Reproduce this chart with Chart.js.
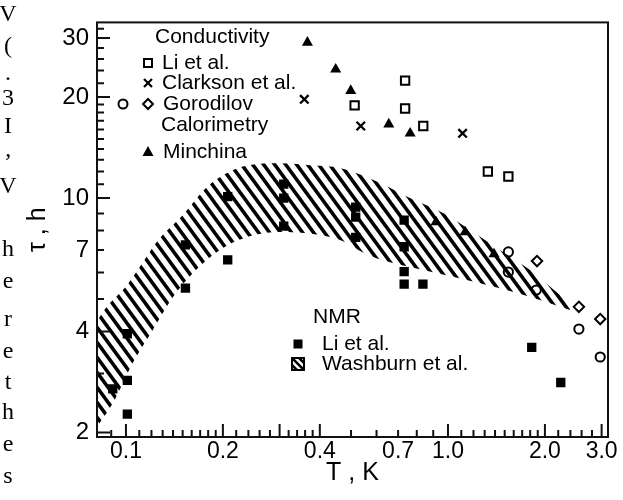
<!DOCTYPE html>
<html>
<head>
<meta charset="utf-8">
<script src="https://cdn.jsdelivr.net/npm/chart.js@4.4.0/dist/chart.umd.min.js"></script>
<style>
  html, body { margin: 0; padding: 0; background: #fff; }
  #wrap { position: relative; width: 623px; height: 500px; }
</style>
</head>
<body>
<div id="wrap"><canvas id="tauChart"></canvas></div>
<script>
// Conductivity: Li et al. (open squares)
const liCondT   = [0.513, 0.736, 0.736, 0.838, 1.33, 1.54];
const liCondTau = [18.9, 22.4, 18.5, 16.4, 12.0, 11.6];

// Conductivity: Clarkson et al. (crosses)
const clarksonT   = [0.358, 0.536, 1.11];
const clarksonTau = [19.7, 16.4, 15.6];

// Conductivity: Gorodilov (circles and diamonds)
const gorCircleT    = [1.54, 1.54, 1.88, 2.55, 2.97];
const gorCircleTau  = [6.91, 6.02, 5.32, 4.07, 3.36];
const gorDiamondT   = [1.89, 2.55, 2.97];
const gorDiamondTau = [6.49, 4.74, 4.36];

// Calorimetry: Minchina (filled triangles)
const minchinaT   = [0.366, 0.448, 0.499, 0.655, 0.763, 0.918, 1.13, 1.39];
const minchinaTau = [29.1, 24.2, 20.9, 16.6, 15.6, 8.48, 7.92, 6.81];

// NMR: Li et al. (filled squares)
const nmrLiT   = [0.091, 0.101, 0.101, 0.101, 0.153, 0.153, 0.207, 0.207, 0.309, 0.309, 0.309,
                  0.517, 0.517, 0.517, 0.731, 0.731, 0.731, 0.731, 0.836, 1.82, 2.24];
const nmrLiTau = [2.70, 3.94, 2.86, 2.27, 7.25, 5.39, 10.1, 6.54, 11.0, 10.0, 8.25,
                  9.40, 8.78, 7.64, 8.60, 7.16, 6.04, 5.54, 5.54, 3.59, 2.82];

// NMR: Washburn et al. band (upper and lower edges)
const bandUpperT   = [0.0813, 0.0873, 0.1007, 0.1275, 0.1472, 0.1785, 0.2001, 0.2376, 0.3008,
                      0.3808, 0.4619, 0.615, 0.762, 0.965, 1.170, 1.450, 1.798, 2.228, 2.393];
const bandUpperTau = [4.30, 4.75, 5.50, 7.60, 8.72, 10.8, 11.7, 12.5, 12.7,
                      12.5, 12.3, 11.1, 10.0, 9.02, 8.03, 7.00, 6.10, 5.14, 4.87];
const bandLowerT   = [0.0813, 0.0911, 0.1051, 0.1213, 0.140, 0.1615, 0.1958, 0.2376, 0.3008,
                      0.3808, 0.4619, 0.573, 0.762, 1.044, 1.430, 1.931, 2.393];
const bandLowerTau = [2.08, 2.45, 3.23, 4.05, 5.07, 5.98, 7.00, 7.65, 7.92,
                      7.81, 7.50, 6.72, 6.23, 5.82, 5.40, 4.97, 4.64];

// axis ticks
const xTickLabels = [0.1, 0.2, 0.4, 0.7, 1, 2, 3];
const xMajorTicks = [0.1, 0.2, 0.3, 0.4, 1, 2, 3];
const xMinorTicks = [0.09, 0.11, 0.12, 0.13, 0.14, 0.15, 0.16, 0.17, 0.18, 0.19,
                     0.22, 0.24, 0.26, 0.28, 0.32, 0.34, 0.36, 0.38,
                     0.5, 0.6, 0.7, 0.8, 0.9, 1.1, 1.2, 1.3, 1.4, 1.5, 1.6, 1.7, 1.8, 1.9,
                     2.2, 2.4, 2.6, 2.8];
const yTickLabels = [2, 4, 7, 10, 20, 30];
const yMajorTicks = [2, 4, 10, 20, 30];
const yMinorTicks = [3, 5, 6, 7, 8, 9, 11, 12, 13, 14, 15, 16, 17, 18, 19, 22, 24, 26, 28, 32];

// stray characters of the neighbouring text column
const marginChars = ['V', '(', '.', '3', 'I', '\u2019', 'V', 'h', 'e', 'r', 'e', 't', 'h', 'e', 's'];

const SANS = "'Liberation Sans', Arial, Helvetica, sans-serif";
const pts = (xs, ys) => xs.map((x, i) => ({ x: x, y: ys[i] }));

const canvas = document.getElementById('tauChart');

// diagonal hatch used for the Washburn band
function makeHatch(ctx) {
    const w = 11, h = 15;
    const tile = document.createElement('canvas');
    tile.width = w;
    tile.height = h;
    const t = tile.getContext('2d');
    t.strokeStyle = '#000';
    t.lineWidth = 3.6;
    for (let n = -1; n <= 1; n++) {
        t.beginPath();
        t.moveTo(-w, n * h - h);
        t.lineTo(2 * w, n * h + 2 * h);
        t.stroke();
    }
    return ctx.createPattern(tile, 'repeat');
}
const hatch = makeHatch(canvas.getContext('2d'));

// small marker painter for the in-plot legend
function drawMarker(ctx, kind, x, y) {
    ctx.save();
    ctx.strokeStyle = '#000';
    ctx.fillStyle = '#000';
    ctx.lineWidth = 2;
    ctx.beginPath();
    if (kind === 'square') {
        ctx.rect(x - 4, y - 4, 8, 8);
        ctx.stroke();
    } else if (kind === 'filledSquare') {
        ctx.fillRect(x - 4.5, y - 4.5, 9, 9);
    } else if (kind === 'cross') {
        ctx.lineWidth = 2.2;
        ctx.moveTo(x - 4, y - 4); ctx.lineTo(x + 4, y + 4);
        ctx.moveTo(x + 4, y - 4); ctx.lineTo(x - 4, y + 4);
        ctx.stroke();
    } else if (kind === 'circle') {
        ctx.arc(x, y, 4.5, 0, Math.PI * 2);
        ctx.stroke();
    } else if (kind === 'diamond') {
        ctx.moveTo(x, y - 5); ctx.lineTo(x + 5, y); ctx.lineTo(x, y + 5); ctx.lineTo(x - 5, y);
        ctx.closePath();
        ctx.stroke();
    } else if (kind === 'triangle') {
        ctx.moveTo(x, y - 6); ctx.lineTo(x + 5.5, y + 4); ctx.lineTo(x - 5.5, y + 4);
        ctx.closePath();
        ctx.fill();
    } else if (kind === 'hatchBox') {
        ctx.save();
        ctx.rect(x - 6, y - 6, 12, 12);
        ctx.clip();
        ctx.lineWidth = 2.6;
        for (let k = -1; k <= 1; k++) {
            ctx.beginPath();
            ctx.moveTo(x - 8 + k * 7, y - 8);
            ctx.lineTo(x + 8 + k * 7, y + 8);
            ctx.stroke();
        }
        ctx.restore();
        ctx.lineWidth = 2;
        ctx.strokeRect(x - 6, y - 6, 12, 12);
    }
    ctx.restore();
}

// frame, inward ticks, legend text and margin letters
const decorations = {
    id: 'decorations',
    afterDraw(chart) {
        const { ctx, chartArea: a, scales } = chart;
        const xs = scales.x, ys = scales.y;
        ctx.save();

        ctx.strokeStyle = '#111';
        ctx.lineWidth = 2;
        ctx.beginPath();
        xMajorTicks.forEach(v => { const p = xs.getPixelForValue(v); ctx.moveTo(p, a.bottom); ctx.lineTo(p, a.bottom - 13); });
        xMinorTicks.forEach(v => { const p = xs.getPixelForValue(v); ctx.moveTo(p, a.bottom); ctx.lineTo(p, a.bottom - 7); });
        yMajorTicks.forEach(v => { const p = ys.getPixelForValue(v); ctx.moveTo(a.left, p); ctx.lineTo(a.left + 13, p); });
        yMinorTicks.forEach(v => { const p = ys.getPixelForValue(v); ctx.moveTo(a.left, p); ctx.lineTo(a.left + 7, p); });
        ctx.stroke();
        ctx.strokeRect(a.left, a.top, a.right - a.left, a.bottom - a.top);

        ctx.fillStyle = '#000';
        ctx.textBaseline = 'middle';
        ctx.textAlign = 'left';
        ctx.font = '21px ' + SANS;
        ctx.fillText('Conductivity', 155, 37);
        drawMarker(ctx, 'square', 148, 63);
        ctx.fillText('Li et al.', 162, 63);
        drawMarker(ctx, 'cross', 148, 83);
        ctx.fillText('Clarkson et al.', 162, 83);
        drawMarker(ctx, 'circle', 123, 104);
        drawMarker(ctx, 'diamond', 148, 104);
        ctx.fillText('Gorodilov', 163, 104);
        ctx.fillText('Calorimetry', 161, 125);
        drawMarker(ctx, 'triangle', 148, 152);
        ctx.fillText('Minchina', 163, 152);

        ctx.fillText('NMR', 313, 317);
        drawMarker(ctx, 'filledSquare', 298, 344);
        ctx.fillText('Li et al.', 322, 344);
        drawMarker(ctx, 'hatchBox', 298, 364);
        ctx.fillText('Washburn et al.', 322, 364);

        // the neighbouring column is cut by the page edge
        ctx.font = '24px "Liberation Serif", "Times New Roman", serif';
        ctx.textAlign = 'center';
        const rows = [15, 47, 74, 99, 127, 163, 187, 250, 282, 320, 352, 383, 413, 445, 477];
        marginChars.forEach((c, i) => ctx.fillText(c, 8, rows[i]));
        ctx.restore();
    }
};

const markerBase = { showLine: false, order: 0 };

new Chart(canvas, {
    type: 'scatter',
    data: {
        datasets: [
            {
                type: 'line', label: 'Washburn et al.', data: pts(bandUpperT, bandUpperTau),
                borderWidth: 0, pointRadius: 0, cubicInterpolationMode: 'monotone',
                backgroundColor: hatch, fill: 1, order: 10
            },
            {
                type: 'line', label: 'Washburn lower', data: pts(bandLowerT, bandLowerTau),
                borderWidth: 0, pointRadius: 0, cubicInterpolationMode: 'monotone',
                fill: false, order: 11
            },
            {
                ...markerBase, label: 'Li et al. (NMR)', data: pts(nmrLiT, nmrLiTau),
                pointStyle: 'rect', pointRadius: 6.6, borderWidth: 0,
                backgroundColor: '#000', borderColor: '#000'
            },
            {
                ...markerBase, label: 'Li et al.', data: pts(liCondT, liCondTau),
                pointStyle: 'rect', pointRadius: 5.9, borderWidth: 2,
                backgroundColor: 'rgba(255,255,255,0)', borderColor: '#000'
            },
            {
                ...markerBase, label: 'Clarkson et al.', data: pts(clarksonT, clarksonTau),
                pointStyle: 'crossRot', pointRadius: 6, borderWidth: 2.3, borderColor: '#000'
            },
            {
                ...markerBase, label: 'Gorodilov', data: pts(gorCircleT, gorCircleTau),
                pointStyle: 'circle', pointRadius: 4.6, borderWidth: 2,
                backgroundColor: 'rgba(255,255,255,0)', borderColor: '#000'
            },
            {
                ...markerBase, label: 'Gorodilov diamonds', data: pts(gorDiamondT, gorDiamondTau),
                pointStyle: 'rectRot', pointRadius: 5.2, borderWidth: 2,
                backgroundColor: 'rgba(255,255,255,0)', borderColor: '#000'
            },
            {
                ...markerBase, label: 'Minchina', data: pts(minchinaT, minchinaTau),
                pointStyle: 'triangle', pointRadius: 6.4, borderWidth: 0,
                backgroundColor: '#000', borderColor: '#000'
            }
        ]
    },
    options: {
        responsive: true,
        maintainAspectRatio: false,
        animation: false,
        events: [],
        layout: { padding: { top: 22, right: 15, left: 0, bottom: 0 } },
        plugins: {
            legend: { display: false },
            tooltip: { enabled: false }
        },
        scales: {
            x: {
                type: 'logarithmic',
                min: 0.0813,
                max: 3.14,
                afterBuildTicks: axis => { axis.ticks = xTickLabels.map(v => ({ value: v })); },
                afterFit: axis => { axis.height = 63; },
                grid: { display: false, drawTicks: false },
                border: { display: false },
                ticks: {
                    autoSkip: false, maxRotation: 0, padding: 1, color: '#000',
                    font: { family: SANS, size: 23 },
                    callback: v => Number(v).toFixed(1)
                },
                title: {
                    display: true, text: 'T , K', color: '#000',
                    font: { family: SANS, size: 25 }, padding: { top: 0, bottom: 12 }
                }
            },
            y: {
                type: 'logarithmic',
                min: 1.94,
                max: 33.4,
                afterBuildTicks: axis => { axis.ticks = yTickLabels.map(v => ({ value: v })); },
                afterFit: axis => { axis.width = 97; },
                grid: { display: false, drawTicks: false },
                border: { display: false },
                ticks: {
                    autoSkip: false, padding: 8, color: '#000',
                    font: { family: SANS, size: 24 },
                    callback: v => String(v)
                },
                title: {
                    display: true, text: '\u03c4 , h', color: '#000',
                    font: { family: SANS, size: 25 }, padding: { top: 23, bottom: 0 }
                }
            }
        }
    },
    plugins: [decorations]
});
</script>
</body>
</html>
